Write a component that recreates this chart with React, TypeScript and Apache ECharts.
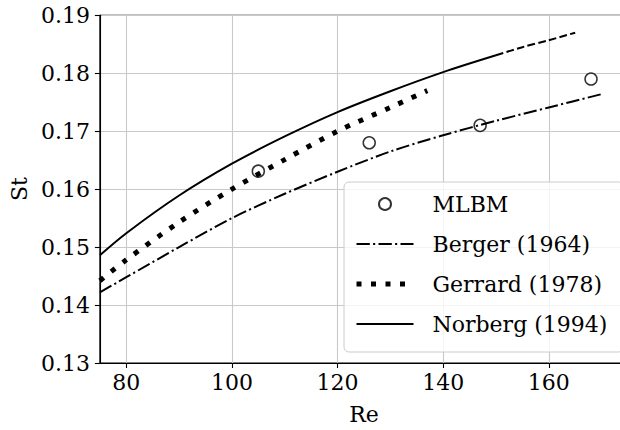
import React, { useEffect, useRef } from "react";
import * as echarts from "echarts";

// ---- data ----
const xTickValues = [80, 100, 120, 140, 160];

const mlbmRe = [105, 126, 147, 168];
const mlbmSt = [0.1631, 0.168, 0.171, 0.179];

const bergerRe = [75, 80, 90, 100, 110, 120, 130, 140, 150, 160, 170];
const bergerSt = [0.1422, 0.1448, 0.15, 0.155, 0.1592, 0.163, 0.1665, 0.1693, 0.1718, 0.1741, 0.1764];

const gerrardRe = [75, 80, 90, 100, 110, 120, 130, 137];
const gerrardSt = [0.1442, 0.1478, 0.1543, 0.16, 0.1651, 0.17, 0.1741, 0.177];

const norbergRe = [75, 80, 90, 100, 110, 120, 130, 140, 150];
const norbergSt = [0.1486, 0.1524, 0.1589, 0.1644, 0.1691, 0.1733, 0.1769, 0.1802, 0.1831];

const norbergExtRe = [150, 155, 160, 165];
const norbergExtSt = [0.1831, 0.1845, 0.1857, 0.187];

const FONT = "DejaVu Serif";

const pairs = (xs: number[], ys: number[]) => xs.map((x, i) => [x, ys[i]]);

const bergerDash = [13.3, 3.3, 2.1, 3.3];
const gerrardDash = [5, 9.5];
const extDash = [7.7, 3.3];

export default function App() {
  const ref = useRef<HTMLDivElement>(null);

  useEffect(() => {
    if (!ref.current) return;
    const chart = echarts.init(ref.current, undefined, { renderer: "svg" });
    const hideIcon = { opacity: 0, color: "rgba(0,0,0,0)", borderWidth: 0 };
    chart.setOption({
      animation: false,
      backgroundColor: "#ffffff",
      textStyle: { fontFamily: FONT },
      grid: {
        left: 96.7,
        top: 15.3,
        right: 32,
        bottom: 62.7,
        show: true,
        borderColor: "#000",
        borderWidth: 1.1,
        backgroundColor: "transparent",
      },
      legend: {
        orient: "vertical",
        left: 344,
        top: 182,
        padding: [9, 16, 15, 10],
        itemWidth: 57,
        itemHeight: 12,
        itemGap: 14,
        selectedMode: false,
        backgroundColor: "rgba(255,255,255,0.8)",
        borderColor: "#cccccc",
        borderWidth: 1,
        borderRadius: 5,
        textStyle: {
          fontFamily: FONT,
          fontSize: 22,
          color: "#000",
          lineHeight: 26,
          padding: [0, 0, 0, 14],
        },
        data: [
          { name: "MLBM" },
          { name: "Berger (1964)", itemStyle: hideIcon, lineStyle: { width: 2, type: bergerDash, color: "#000" } },
          { name: "Gerrard (1978)", itemStyle: hideIcon, lineStyle: { width: 5, type: gerrardDash, color: "#000" } },
          { name: "Norberg (1994)", itemStyle: hideIcon, lineStyle: { width: 2, type: "solid", color: "#000" } },
        ],
      },
      xAxis: {
        type: "value",
        min: 75,
        max: 175,
        name: "Re",
        nameLocation: "middle",
        nameGap: 40,
        nameTextStyle: { fontFamily: FONT, fontSize: 22, color: "#000" },
        axisLine: { show: true, lineStyle: { color: "#000", width: 1.1 } },
        axisTick: {
          show: true,
          length: 5,
          lineStyle: { color: "#000", width: 1.1 },
          customValues: xTickValues,
        },
        axisLabel: {
          fontFamily: FONT,
          fontSize: 22,
          color: "#000",
          margin: 8,
          customValues: xTickValues,
          formatter: (v: number) => String(v),
        },
        splitLine: { show: true, lineStyle: { color: "#c9c9c9", width: 1.1 } },
      },
      yAxis: {
        type: "value",
        min: 0.13,
        max: 0.19,
        interval: 0.01,
        name: "St",
        nameLocation: "middle",
        nameGap: 63,
        nameTextStyle: { fontFamily: FONT, fontSize: 22, color: "#000" },
        axisLine: { show: true, lineStyle: { color: "#000", width: 1.1 } },
        axisTick: { show: true, length: 5, lineStyle: { color: "#000", width: 1.1 } },
        axisLabel: {
          fontFamily: FONT,
          fontSize: 22,
          color: "#000",
          margin: 10,
          formatter: (v: number) => v.toFixed(2),
        },
        splitLine: { show: true, lineStyle: { color: "#c9c9c9", width: 1.1 } },
      },
      series: [
        {
          name: "MLBM",
          type: "scatter",
          symbol: "circle",
          symbolSize: 12,
          itemStyle: { color: "rgba(255,255,255,0)", borderColor: "#000", borderWidth: 1.5 },
          data: pairs(mlbmRe, mlbmSt),
        },
        {
          name: "Berger (1964)",
          type: "line",
          symbol: "none",
          smooth: 0.3,
          lineStyle: { color: "#000", width: 2, type: bergerDash, cap: "butt" },
          itemStyle: { color: "#000" },
          data: pairs(bergerRe, bergerSt),
        },
        {
          name: "Gerrard (1978)",
          type: "line",
          symbol: "none",
          smooth: 0.3,
          lineStyle: { color: "#000", width: 5, type: gerrardDash, cap: "butt" },
          itemStyle: { color: "#000" },
          data: pairs(gerrardRe, gerrardSt),
        },
        {
          name: "Norberg (1994)",
          type: "line",
          symbol: "none",
          smooth: 0.3,
          lineStyle: { color: "#000", width: 2, type: "solid" },
          itemStyle: { color: "#000" },
          data: pairs(norbergRe, norbergSt),
        },
        {
          name: "Norberg extrapolated",
          type: "line",
          symbol: "none",
          smooth: 0.3,
          lineStyle: { color: "#000", width: 2, type: extDash, cap: "butt" },
          itemStyle: { color: "#000" },
          data: pairs(norbergExtRe, norbergExtSt),
        },
      ],
    });
    return () => chart.dispose();
  }, []);

  return (
    <div
      style={{
        position: "fixed",
        left: 0,
        top: 0,
        width: 620,
        height: 430,
        overflow: "hidden",
        background: "#fff",
      }}
    >
      <div ref={ref} style={{ width: 660, height: 430 }} />
    </div>
  );
}
